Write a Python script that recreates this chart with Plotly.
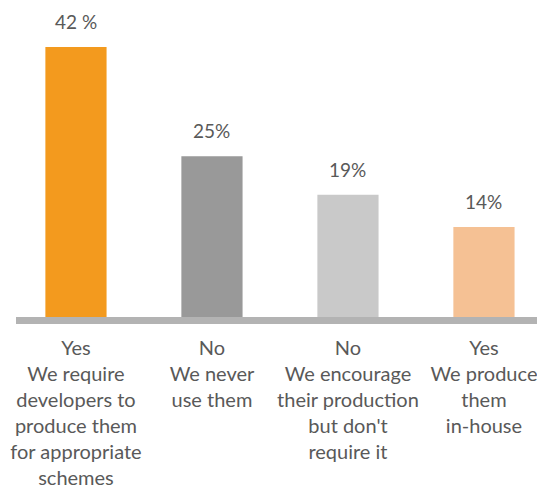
import plotly.graph_objects as go

# Survey responses: share of authorities by approach
answers = ["Yes", "No", "No", "Yes"]
descriptions = [
    "We require<br>developers to<br>produce them<br>for appropriate<br>schemes",
    "We never<br>use them",
    "We encourage<br>their production<br>but don't<br>require it",
    "We produce<br>them<br>in-house",
]
shares = [42, 25, 19, 14]
value_labels = ["42 %", "25%", "19%", "14%"]
bar_colors = ["#F39A1E", "#999999", "#C9C9C9", "#F5C194"]

TEXT = "#595959"
FONT = "Lato"

positions = list(range(len(shares)))
tick_text = [f"{a}<br>{d}" for a, d in zip(answers, descriptions)]

fig = go.Figure(
    go.Bar(
        x=positions,
        y=shares,
        marker=dict(color=bar_colors, line=dict(width=0)),
        width=0.45,
        hoverinfo="skip",
    )
)

for x, y, lab in zip(positions, shares, value_labels):
    fig.add_annotation(
        x=x, y=y, text=lab, showarrow=False,
        yanchor="bottom", yshift=12,
        font=dict(family=FONT, size=19, color=TEXT),
    )

# thick grey baseline under the bars
fig.add_shape(
    type="rect", xref="paper", yref="paper",
    x0=0, x1=1, ysizemode="pixel", yanchor=0, y0=0, y1=-7,
    fillcolor="#B3B3B3", line=dict(width=0), layer="above",
)

fig.update_layout(
    width=537, height=486,
    margin=dict(l=16, r=0, t=0, b=169),
    paper_bgcolor="white", plot_bgcolor="white",
    showlegend=False,
    xaxis=dict(
        range=[-0.441, 3.39],
        tickvals=positions, ticktext=tick_text,
        tickfont=dict(family=FONT, size=20, color=TEXT),
        showgrid=False, zeroline=False, showline=False, ticks="",
        ticklabelstandoff=17,
        ticklabeloverflow="allow",
        automargin=False,
        fixedrange=True,
    ),
    yaxis=dict(
        range=[0, 49.3], visible=False, fixedrange=True, automargin=False,
    ),
)

fig.write_html("out.html")
